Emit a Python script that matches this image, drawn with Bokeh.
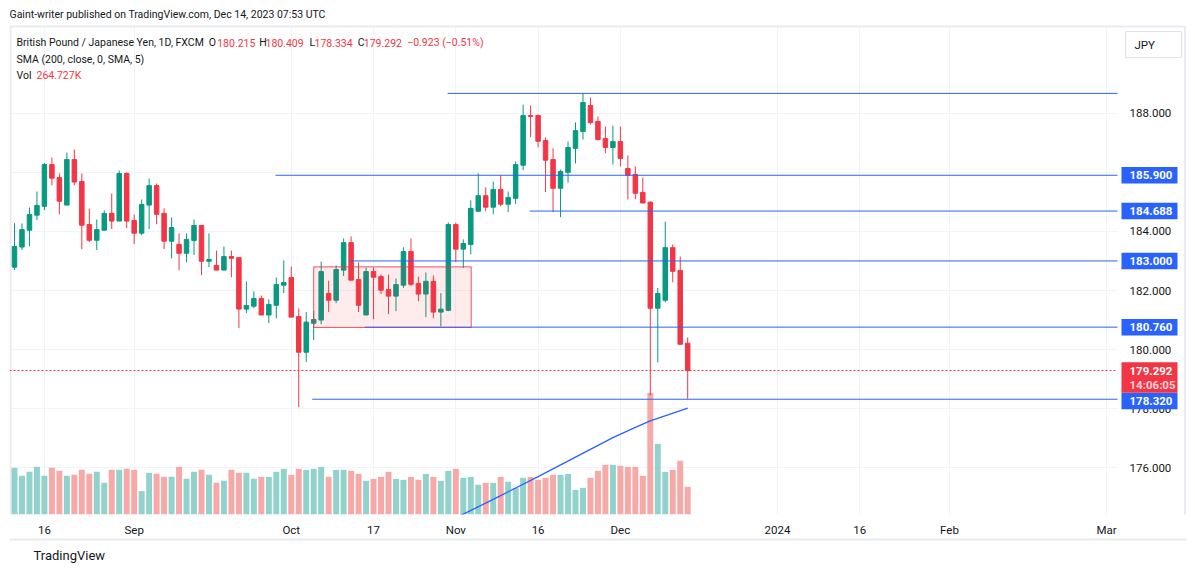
from bokeh.plotting import figure
from bokeh.models import Range1d, FixedTicker, Label, ColumnDataSource, LinearAxis, Grid
from bokeh.embed import file_html
from bokeh.resources import INLINE
from bokeh.core.properties import value

# ---------------- data ----------------
opens = [182.79, 183.47, 184.04, 184.55, 184.85, 186.26, 185.82, 184.89, 186.43, 185.69,
         184.23, 183.70, 184.04, 184.61, 184.35, 185.96, 184.37, 183.94, 184.89, 185.55,
         184.61, 183.67, 183.56, 183.26, 183.69, 184.20, 182.99, 182.85, 182.69, 183.15,
         183.11, 181.37, 181.47, 181.73, 181.17, 181.50, 182.18, 182.44, 181.12, 179.91,
         180.89, 181.00, 181.90, 181.67, 182.69, 183.62, 182.37, 181.17, 182.64, 182.47,
         182.03, 181.81, 182.18, 183.32, 182.24, 181.88, 182.31, 181.27, 181.33, 184.23,
         183.40, 183.56, 184.68, 185.21, 184.82, 185.42, 184.92, 185.12, 186.24, 187.92,
         187.92, 187.08, 186.43, 185.46, 186.00, 186.81, 187.38, 188.26, 187.72, 187.14,
         186.84, 187.04, 186.13, 185.93, 185.32, 184.99, 181.40, 181.67, 183.45, 182.68,
         180.215]
highs = [184.28, 184.27, 184.81, 185.35, 186.32, 186.50, 185.96, 186.67, 186.77, 185.96,
         184.77, 184.40, 184.71, 185.28, 186.06, 186.00, 184.57, 185.08, 185.79, 185.62,
         184.78, 184.47, 183.93, 183.93, 184.40, 184.20, 183.93, 183.35, 183.49, 183.35,
         183.11, 182.31, 181.97, 181.83, 181.70, 182.44, 183.02, 182.81, 181.39, 181.27,
         181.31, 182.98, 182.33, 182.85, 183.76, 183.83, 182.95, 182.78, 182.78, 182.54,
         182.54, 182.41, 183.46, 183.76, 182.47, 182.61, 182.51, 181.91, 184.30, 184.30,
         183.73, 185.05, 185.96, 185.49, 185.69, 185.90, 185.35, 186.37, 188.29, 188.26,
         187.96, 187.18, 186.81, 186.09, 187.04, 187.69, 188.67, 188.53, 187.89, 187.55,
         187.58, 187.55, 186.57, 186.20, 185.82, 185.02, 182.08, 184.33, 183.56, 183.15,
         180.409]
lows = [182.69, 183.37, 183.50, 184.38, 184.72, 185.56, 184.58, 184.89, 185.56, 183.40,
        183.64, 183.37, 184.04, 184.08, 184.35, 184.11, 183.57, 183.87, 184.08, 184.24,
        183.40, 183.09, 182.69, 182.96, 183.20, 182.52, 182.79, 182.69, 182.69, 182.45,
        180.73, 181.23, 181.40, 181.17, 180.90, 181.06, 181.91, 181.10, 178.05, 179.58,
        180.32, 180.86, 181.27, 181.57, 182.49, 182.35, 181.27, 181.17, 181.03, 181.88,
        181.20, 181.30, 182.09, 182.15, 181.64, 181.10, 181.06, 180.79, 181.30, 182.96,
        182.76, 183.22, 184.68, 184.68, 184.58, 184.85, 184.65, 184.92, 186.07, 187.19,
        186.85, 185.33, 184.65, 184.48, 185.65, 186.30, 187.11, 187.62, 187.08, 186.64,
        186.26, 186.20, 185.08, 185.09, 184.96, 178.45, 179.57, 181.60, 182.28, 180.18,
        178.334]
closes = [183.49, 184.06, 184.57, 184.88, 186.26, 185.80, 185.02, 186.43, 185.67, 184.21,
          183.70, 184.06, 184.61, 184.35, 185.96, 184.35, 183.94, 184.91, 185.55, 184.58,
          183.67, 184.13, 183.26, 183.73, 184.20, 182.99, 183.05, 182.69, 183.15, 183.09,
          181.37, 181.49, 181.73, 181.17, 181.53, 182.20, 182.27, 181.10, 179.91, 180.93,
          181.02, 182.64, 181.67, 182.71, 183.62, 182.35, 181.50, 182.64, 182.45, 182.01,
          181.81, 182.20, 183.32, 182.21, 181.88, 182.31, 181.27, 181.37, 184.23, 183.40,
          183.59, 184.78, 185.21, 184.82, 185.42, 184.92, 185.15, 186.26, 187.92, 187.89,
          187.05, 186.41, 185.46, 186.03, 186.84, 187.41, 188.36, 187.68, 187.11, 186.84,
          187.04, 186.47, 185.90, 185.29, 184.96, 181.40, 181.90, 183.45, 182.65, 180.18,
          179.292]
volumes_k = [447, 370, 408, 456, 370, 447, 418, 370, 380, 427,
             389, 408, 303, 427, 427, 437, 427, 226, 399, 389,
             360, 360, 456, 341, 408, 427, 380, 303, 322, 427,
             399, 399, 341, 360, 360, 408, 437, 380, 437, 427,
             437, 456, 360, 427, 427, 418, 389, 322, 341, 360,
             408, 341, 332, 360, 332, 389, 360, 322, 418, 437,
             351, 360, 284, 303, 303, 360, 313, 255, 351, 360,
             332, 351, 380, 380, 389, 236, 255, 351, 418, 475,
             475, 466, 456, 456, 370, 1164, 676, 408, 427, 514,
             264.727]

sma_idx = [58, 60, 65, 70, 75, 80, 83, 85, 90]
sma_vals = [174.20, 174.43, 175.06, 175.70, 176.36, 177.02, 177.37, 177.59, 178.02]

x_ticks = [4, 16, 37, 48, 59, 70, 81, 102, 113, 125, 146]
x_tick_labels = ["16", "Sep", "Oct", "17", "Nov", "16", "Dec", "2024", "16", "Feb", "Mar"]
y_ticks = [176, 178, 180, 182, 184, 186, 188]
y_tick_labels = ["176.000", "178.000", "180.000", "182.000", "184.000", "186.000", "188.000"]

level_prices = [185.900, 184.688, 183.000, 180.760, 178.320]
level_labels = ["185.900", "184.688", "183.000", "180.760", "178.320"]
level_starts = [34.9, 68.9, 44.9, 46.8, 39.8]
top_level_price = 188.67
top_level_start = 57.9
zone_left, zone_right, zone_bottom, zone_top = 40.0, 61.06, 180.75, 182.80
last_price = 179.292

UP = "#089981"
DOWN = "#F23645"
VUP = "#92D2CC"
VDOWN = "#F7A9A7"
BLUE = "#2962FF"
TXT = "#131722"
BORDER = "#E9EBF0"
FONT = "Roboto"

# ---------------- layout helpers (pixel -> data for decorations) ----------------
W, H = 1195, 577
F_LEFT, F_RIGHT, F_TOP, F_BOTTOM = 9, 1186, 0, 514
X0, DX = 14.0, 7.48            # pixel of bar 0, pixels per bar
Y188, DY = 112.7, 29.55        # pixel of 188.000, pixels per yen


def xd(px):
    return (px - X0) / DX


def yd(py):
    return 188 - (py - Y188) / DY


PANE_RIGHT = xd(1117)
PANE_TOP = yd(26)

idx = list(range(len(opens)))
up = [c >= o for o, c in zip(opens, closes)]
src = ColumnDataSource(dict(
    x=idx,
    top=[max(o, c) for o, c in zip(opens, closes)],
    bottom=[min(o, c) for o, c in zip(opens, closes)],
    high=highs, low=lows,
    color=[UP if u else DOWN for u in up],
    vcolor=[VUP if u else VDOWN for u in up],
    vol=volumes_k,
))

p = figure(width=W, height=H, x_range=Range1d(xd(F_LEFT), xd(F_RIGHT)),
           y_range=Range1d(yd(F_BOTTOM), yd(F_TOP)), y_axis_location=None,
           output_backend="svg", toolbar_location=None, title="TradingView",
           title_location="below",
           min_border_left=F_LEFT, min_border_right=W - F_RIGHT,
           min_border_top=F_TOP, min_border_bottom=H - F_BOTTOM)
p.title.align = "left"
p.title.offset = 24
p.title.standoff = 13
p.title.text_font = FONT
p.title.text_font_size = "13px"
p.title.text_font_style = "normal"
p.title.text_color = TXT
p.outline_line_color = None
p.background_fill_color = "white"
p.border_fill_color = "white"
p.extra_y_ranges = {"vol": Range1d(0, (F_BOTTOM - F_TOP) * 9.567)}

# grid
p.xgrid.ticker = FixedTicker(ticks=x_ticks)
if len(p.ygrid) > 0:
    p.ygrid.ticker = FixedTicker(ticks=y_ticks)
else:
    p.add_layout(Grid(dimension=1, ticker=FixedTicker(ticks=y_ticks)))
for g in p.grid:
    g.grid_line_color = "#F0F3FA"
    g.grid_line_width = 1

# x axis
xa = p.xaxis[0]
xa.ticker = FixedTicker(ticks=x_ticks)
xa.major_label_overrides = {t: l for t, l in zip(x_ticks, x_tick_labels)}
xa.axis_line_color = None
xa.major_tick_line_color = None
xa.minor_tick_line_color = None
xa.major_tick_out = 0
xa.major_tick_in = 0
xa.major_label_text_font = FONT
xa.major_label_text_font_size = "11.5px"
xa.major_label_text_color = TXT
xa.major_label_standoff = 8

# widget bottom border drawn as an empty second axis line
bax = LinearAxis(ticker=FixedTicker(ticks=[]), axis_line_color=BORDER, axis_line_width=2,
                 major_tick_line_color=None, minor_tick_line_color=None,
                 major_tick_in=0, major_tick_out=3)
p.add_layout(bax, "below")

# cover grid outside the pane (header band, price scale band)
p.quad(left=[xd(F_LEFT) - 1, PANE_RIGHT], right=[xd(F_RIGHT) + 1, xd(F_RIGHT) + 1],
       bottom=[PANE_TOP, yd(F_BOTTOM) - 1], top=[yd(F_TOP) + 1, yd(F_TOP) + 1],
       fill_color="white", line_color=None)

# widget border (top, left, right)
p.segment(x0=[xd(9), xd(10), xd(1184.5)], x1=[xd(1185), xd(10), xd(1184.5)],
          y0=[PANE_TOP, PANE_TOP, PANE_TOP], y1=[PANE_TOP, yd(F_BOTTOM) - 1, yd(F_BOTTOM) - 1],
          line_color=BORDER, line_width=2)

# volume
p.vbar(x="x", width=0.8, top="vol", bottom=0, y_range_name="vol",
       fill_color="vcolor", line_color=None, source=src)

# candles
p.segment(x0="x", y0="low", x1="x", y1="high", line_color="color", line_width=1, source=src)
p.vbar(x="x", width=0.6, top="top", bottom="bottom", fill_color="color",
       line_color="color", line_width=1, source=src)

# SMA
p.line(sma_idx, sma_vals, line_color=BLUE, line_width=1.3)

# zone rectangle
p.quad(left=[zone_left], right=[zone_right], bottom=[zone_bottom], top=[zone_top],
       fill_color=DOWN, fill_alpha=0.1, line_color=DOWN, line_alpha=0.85, line_width=1)

# horizontal levels
p.segment(x0=level_starts + [top_level_start], x1=[PANE_RIGHT] * (len(level_starts) + 1),
          y0=level_prices + [top_level_price], y1=level_prices + [top_level_price],
          line_color=BLUE, line_width=1)

# last price dotted line
p.segment(x0=[xd(F_LEFT)], x1=[PANE_RIGHT], y0=[last_price], y1=[last_price],
          line_color=DOWN, line_width=1, line_dash="2 2")

# ---------- price scale ----------
SCALE_TX = xd(1129)
SCALE_BOX = xd(1149)
p.text(x=[SCALE_TX] * len(y_ticks), y=y_ticks, text=y_tick_labels, text_font=value(FONT),
       text_font_size="11.5px", text_color=TXT, text_baseline="middle", text_align="left")

lab_y = [pr if lab != "178.320" else yd(400.5) for lab, pr in zip(level_labels, level_prices)]
p.rect(x=[SCALE_BOX] * len(lab_y), y=lab_y, width=56, height=16.5,
       width_units="screen", height_units="screen", fill_color=BLUE, line_color=None)
p.text(x=[SCALE_TX] * len(lab_y), y=lab_y, text=level_labels, text_font=value(FONT),
       text_font_size="11.5px", text_font_style="bold", text_color="white",
       text_baseline="middle", text_align="left")

p.rect(x=[SCALE_BOX], y=[yd(377)], width=56, height=30.6,
       width_units="screen", height_units="screen", fill_color=DOWN, line_color=None)
p.text(x=[SCALE_TX, SCALE_TX], y=[yd(370.6), yd(384.3)], text=["179.292", "14:06:05"],
       text_font=value(FONT), text_font_size="11.5px", text_font_style="bold",
       text_color=["white", "#FCD3D6"], text_baseline="middle", text_align="left")

# currency box
p.rect(x=[xd(1153)], y=[yd(44)], width=56, height=26, width_units="screen",
       height_units="screen", fill_color="white", line_color="#E0E3EB", line_width=1)
p.text(x=[xd(1134)], y=[yd(44)], text=["JPY"], text_font=value(FONT),
       text_font_size="11.5px", text_color=TXT, text_baseline="middle", text_align="left")


# ---------- header and legend ----------
def add_label(text, px, py, color=TXT, size="10.5px"):
    p.add_layout(Label(x=px - F_LEFT, y=F_BOTTOM - py, x_units="screen", y_units="screen",
                       text=text, text_color=color, text_font=FONT, text_font_size=size,
                       text_baseline="middle"))


add_label("Gaint-writer published on TradingView.com, Dec 14, 2023 07:53 UTC", 9, 14)
row1 = [("British Pound / Japanese Yen, 1D, FXCM", 16, TXT), ("O", 208.3, TXT),
        ("180.215", 216.7, DOWN), ("H", 258.7, TXT), ("180.409", 265, DOWN),
        ("L", 309, TXT), ("178.334", 314, DOWN), ("C", 357.3, TXT),
        ("179.292", 363.3, DOWN), ("\u22120.923 (\u22120.51%)", 406.7, DOWN)]
for t, x, c in row1:
    add_label(t, x, 42.3, color=c)
add_label("SMA (200, close, 0, SMA, 5)", 16, 59.3)
add_label("Vol", 16, 75.3)
add_label("264.727K", 36, 75.3, color=DOWN)

open("out.html", "w").write(file_html(p, INLINE))
